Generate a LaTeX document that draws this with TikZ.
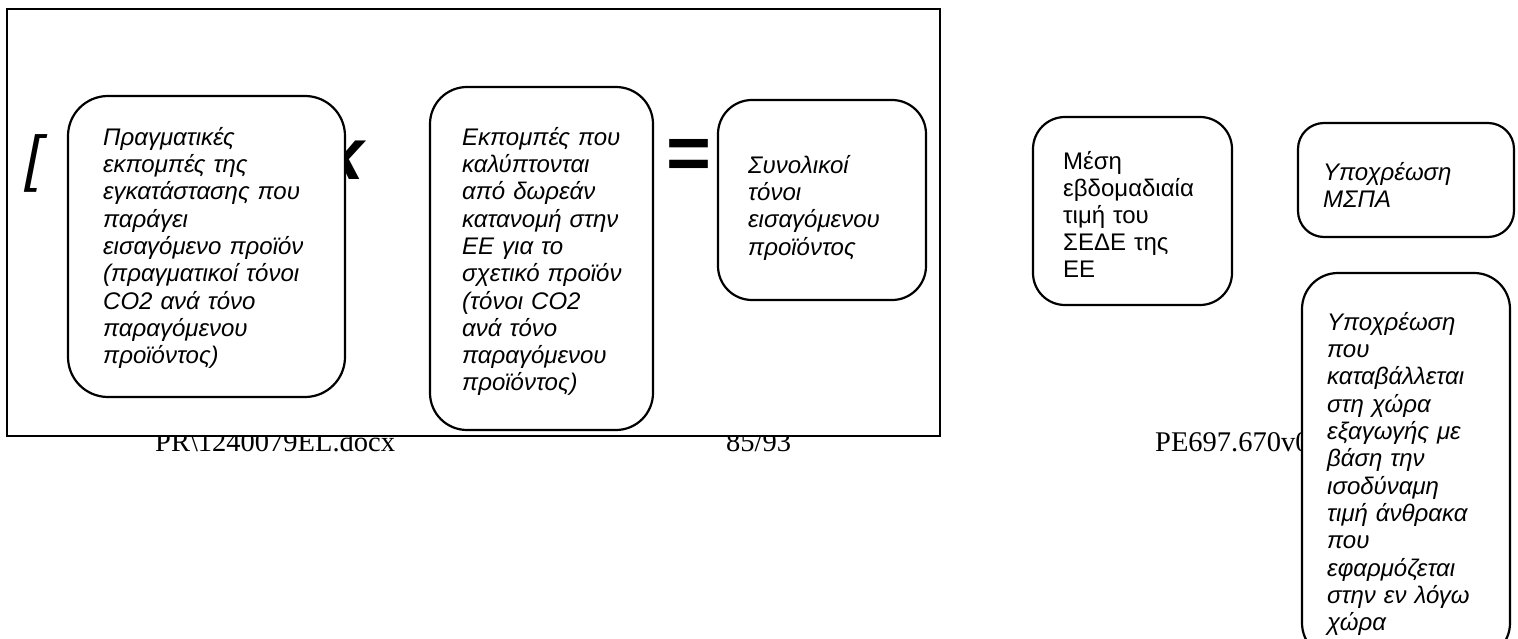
\documentclass[tikz,border=0pt]{standalone}
\usepackage{fontspec}
\setmainfont{Liberation Sans}
\newfontfamily\footfont{Liberation Serif}
\begin{document}
\begin{tikzpicture}[x=1pt,y=-1pt,
  rbox/.style={draw, line width=2.2pt, fill=white, rounded corners=#1, anchor=north west, inner sep=0pt, outer sep=0pt},
  itxt/.style={anchor=north west, inner sep=0pt, align=left, text width=#1, font=\fontsize{24}{27.3}\selectfont\itshape},
  utxt/.style={anchor=north west, inner sep=0pt, align=left, text width=#1, font=\fontsize{24}{27.1}\selectfont},
  foot/.style={anchor=base west, inner sep=0pt, font=\footfont\fontsize{28.5}{30}\selectfont},
  bigsym/.style={anchor=base, inner sep=0pt}
]
\useasboundingbox (0,0) rectangle (1518,639);

% footer line (partly covered by the frame and the last box)
\node[foot] (f1) at (155,451) {PR\textbackslash 1240079EL.docx};
\node[foot] (f2) at (726,451) {85/93};
\node[foot] (f3) at (1155,451) {PE697.670v0};

% outer frame
\node[draw, line width=2.6pt, fill=white, anchor=north west, inner sep=0pt, outer sep=0pt,
      minimum width=933pt, minimum height=427pt] (frame) at (7,9) {};

% operators
\node[bigsym, font=\fontsize{62}{62}\selectfont\itshape] (br) at (34,180) {[};
\node[bigsym, font=\fontsize{73}{73}\selectfont\bfseries\itshape] (times) at (344,180) {x};
\node[bigsym, font=\fontsize{77}{77}\selectfont\bfseries] (eq) at (688.5,180) {=};

% box 1
\node[rbox=40pt, minimum width=277pt, minimum height=301pt] (b1) at (68,96) {};
\node[itxt=240pt] (t1) at (103,125.9) {\strut Πραγματικές\\εκπομπές της\\εγκατάστασης που\\παράγει\\εισαγόμενο προϊόν\\(πραγματικοί τόνοι\\CO2 ανά τόνο\\παραγόμενου\\προϊόντος)};

% box 2
\node[rbox=37pt, minimum width=223pt, minimum height=343pt] (b2) at (430,87) {};
\node[itxt=190pt] (t2) at (462,125.9) {\strut Εκπομπές που\\καλύπτονται\\από δωρεάν\\κατανομή στην\\ΕΕ για το\\σχετικό προϊόν\\(τόνοι CO2\\ανά τόνο\\παραγόμενου\\προϊόντος)};

% box 3
\node[rbox=34pt, minimum width=208pt, minimum height=200pt] (b3) at (718,100) {};
\node[itxt=170pt] (t3) at (748,153.9) {\strut Συνολικοί\\τόνοι\\εισαγόμενου\\προϊόντος};

% box 4
\node[rbox=32pt, minimum width=199pt, minimum height=188pt] (b4) at (1033,117) {};
\node[utxt=160pt] (t4) at (1063,150) {\strut Μέση\\εβδομαδιαία\\τιμή του\\ΣΕΔΕ της\\ΕΕ};

% box 5
\node[rbox=26pt, minimum width=216pt, minimum height=114pt] (b5) at (1298,123) {};
\node[itxt=180pt] (t5) at (1323,161) {\strut Υποχρέωση\\ΜΣΠΑ};

% box 6
\node[rbox=36pt, minimum width=208pt, minimum height=386pt] (b6) at (1302,273) {};
\node[itxt=180pt] (t6) at (1327,311) {\strut Υποχρέωση\\που\\καταβάλλεται\\στη χώρα\\εξαγωγής με\\βάση την\\ισοδύναμη\\τιμή άνθρακα\\που\\εφαρμόζεται\\στην εν λόγω\\χώρα};
\end{tikzpicture}
\end{document}
